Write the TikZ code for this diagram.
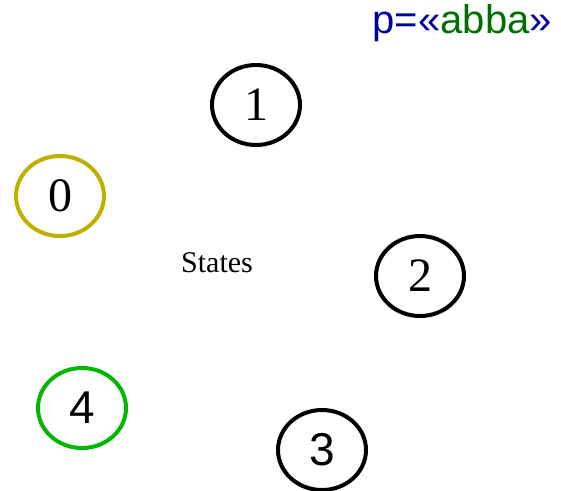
\documentclass[tikz,border=0pt]{standalone}
\usepackage{fontspec}
\setmainfont{Liberation Serif}
\newfontfamily\lsans{Liberation Sans}
\usetikzlibrary{shapes.geometric}
\definecolor{olivering}{RGB}{192,176,0}
\definecolor{greenring}{RGB}{0,184,0}
\definecolor{labelblue}{RGB}{0,0,160}
\definecolor{labelgreen}{RGB}{0,110,0}
\tikzset{
  statenode/.style={ellipse, draw, line width=4pt, minimum width=88pt, minimum height=80pt, inner sep=0pt, font=\fontsize{48}{48}\selectfont},
}
\begin{document}
\begin{tikzpicture}[x=1pt,y=-1pt]
\useasboundingbox (0,0) rectangle (561,490);
\node[statenode, draw=olivering] (n0) at (60,196) {0};
\node[statenode] (n1) at (256,105) {1};
\node[statenode] (n2) at (420,276) {2};
\node[statenode, font=\lsans\fontsize{46}{46}\selectfont] (n3) at (322,450) {3};
\node[statenode, draw=greenring, font=\lsans\fontsize{46}{46}\selectfont] (n4) at (82,408) {4};
\node[font=\fontsize{30}{30}\selectfont, inner sep=0pt] (states) at (217,263) {States};
\node[anchor=base east, inner sep=0pt, font=\lsans\fontsize{40}{40}\selectfont] (label) at (552,33) {\textcolor{labelblue}{p=«}\textcolor{labelgreen}{abba}\textcolor{labelblue}{»}};
\end{tikzpicture}
\end{document}
